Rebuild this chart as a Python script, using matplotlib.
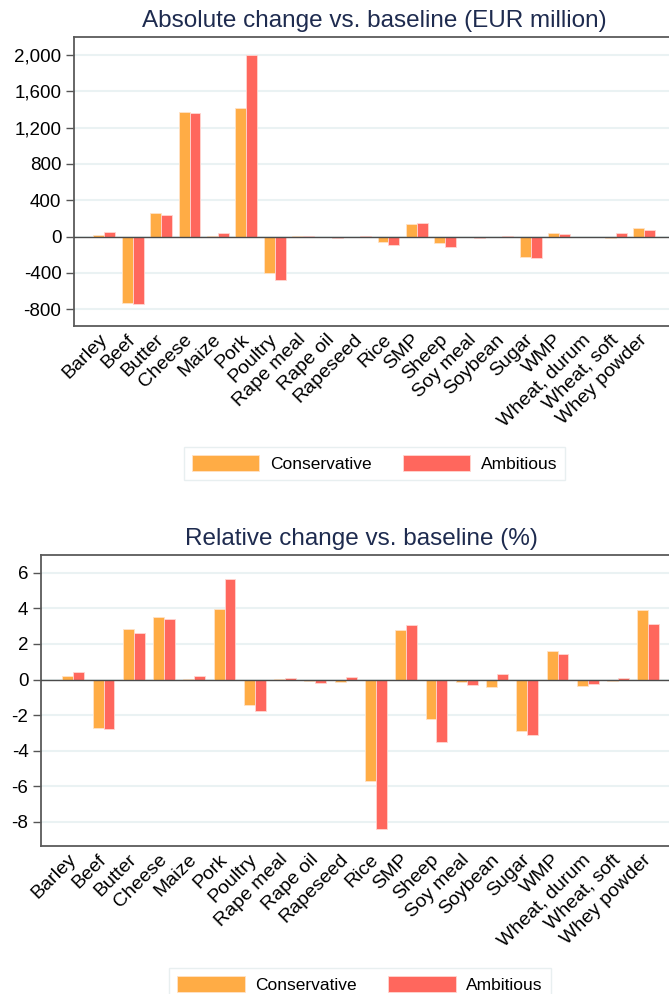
import matplotlib
matplotlib.use("Agg")
import matplotlib.pyplot as plt
from matplotlib.ticker import FuncFormatter
import numpy as np

products = ["Barley", "Beef", "Butter", "Cheese", "Maize", "Pork", "Poultry",
            "Rape meal", "Rape oil", "Rapeseed", "Rice", "SMP", "Sheep",
            "Soy meal", "Soybean", "Sugar", "WMP", "Wheat, durum",
            "Wheat, soft", "Whey powder"]

# absolute change, EUR million
abs_conservative = [22, -727, 262, 1376, 5, 1413, -398, 2, -4, -8, -63, 133,
                    -74, -8, -4, -221, 37, -2, -11, 96]
abs_ambitious = [48, -742, 240, 1358, 37, 1995, -480, 5, -15, 11, -96, 144,
                 -118, -18, 4, -236, 33, -3, 37, 77]

# relative change, %
rel_conservative = [0.19, -2.74, 2.87, 3.49, 0.01, 3.99, -1.44, 0.02, -0.08,
                    -0.15, -5.72, 2.81, -2.19, -0.13, -0.43, -2.89, 1.59,
                    -0.37, -0.07, 3.90]
rel_ambitious = [0.45, -2.79, 2.63, 3.43, 0.22, 5.66, -1.74, 0.11, -0.21,
                 0.17, -8.38, 3.08, -3.51, -0.32, 0.30, -3.09, 1.41, -0.26,
                 0.11, 3.15]

abs_ticks = [-800, -400, 0, 400, 800, 1200, 1600, 2000]
rel_ticks = [-8, -6, -4, -2, 0, 2, 4, 6]

orange = "#FFAC45"
red = "#FF675D"
navy = "#1E2B4F"

plt.rcParams["font.family"] = ["Liberation Sans", "DejaVu Sans"]
plt.rcParams["axes.unicode_minus"] = False

fig = plt.figure(figsize=(6.69, 9.94), dpi=100)
W, H = 669, 994


def panel(rect, cons, amb, ticks, ylim, width, title, fmt):
    ax = fig.add_axes(rect)
    x = np.arange(len(products))
    ax.bar(x - width / 2, cons, width, color=orange, edgecolor="#FFE3C8",
           linewidth=0.6, label="Conservative", zorder=3)
    ax.bar(x + width / 2, amb, width, color=red, edgecolor="#FFD6D2",
           linewidth=0.6, label="Ambitious", zorder=3)
    ax.axhline(0, color="#4a4a4a", lw=1.0, zorder=4)
    ax.set_yticks(ticks)
    ax.yaxis.set_major_formatter(FuncFormatter(fmt))
    ax.set_ylim(*ylim)
    ax.set_xlim(-1.065, 20.08)
    ax.yaxis.grid(True, color="#EAF2F3", lw=1.5, zorder=0)
    ax.set_axisbelow(True)
    ax.set_xticks(x)
    ax.set_xticklabels(products, rotation=45, ha="right", va="center",
                       rotation_mode="anchor", fontsize=14)
    ax.tick_params(axis="x", length=0, pad=8)
    ax.tick_params(axis="y", length=6, width=1, color="#555555",
                   labelsize=13.5, pad=3)
    for s in ax.spines.values():
        s.set_color("#5a5a5a")
        s.set_linewidth(1.3)
    ax.spines["right"].set_visible(False)  # sits past the image edge
    ax.set_title(title, color=navy, fontsize=17.5, pad=7)
    return ax


ax1 = panel([74 / W, 1 - 326 / H, 601 / W, 289 / H],
            abs_conservative, abs_ambitious, abs_ticks, (-985, 2197), 0.385,
            "Absolute change vs. baseline (EUR million)",
            lambda v, p: f"{v:,.0f}")
ax2 = panel([41 / W, 1 - 846 / H, 640 / W, 291 / H],
            rel_conservative, rel_ambitious, rel_ticks, (-9.35, 7.0), 0.36,
            "Relative change vs. baseline (%)",
            lambda v, p: f"{v:.0f}")

for ax, cx, top in [(ax1, 374.5, 447), (ax2, 360, 968)]:
    h, l = ax.get_legend_handles_labels()
    fig.legend(h, l, loc="upper center", bbox_to_anchor=(cx / W, 1 - top / H),
               ncol=2, fontsize=12.5, frameon=True, fancybox=False,
               edgecolor="#E3EBED", handlelength=3.9, handleheight=1.05,
               handletextpad=0.6, columnspacing=1.8, borderpad=0.45,
               borderaxespad=0)

fig.savefig("out.png", dpi=100)
